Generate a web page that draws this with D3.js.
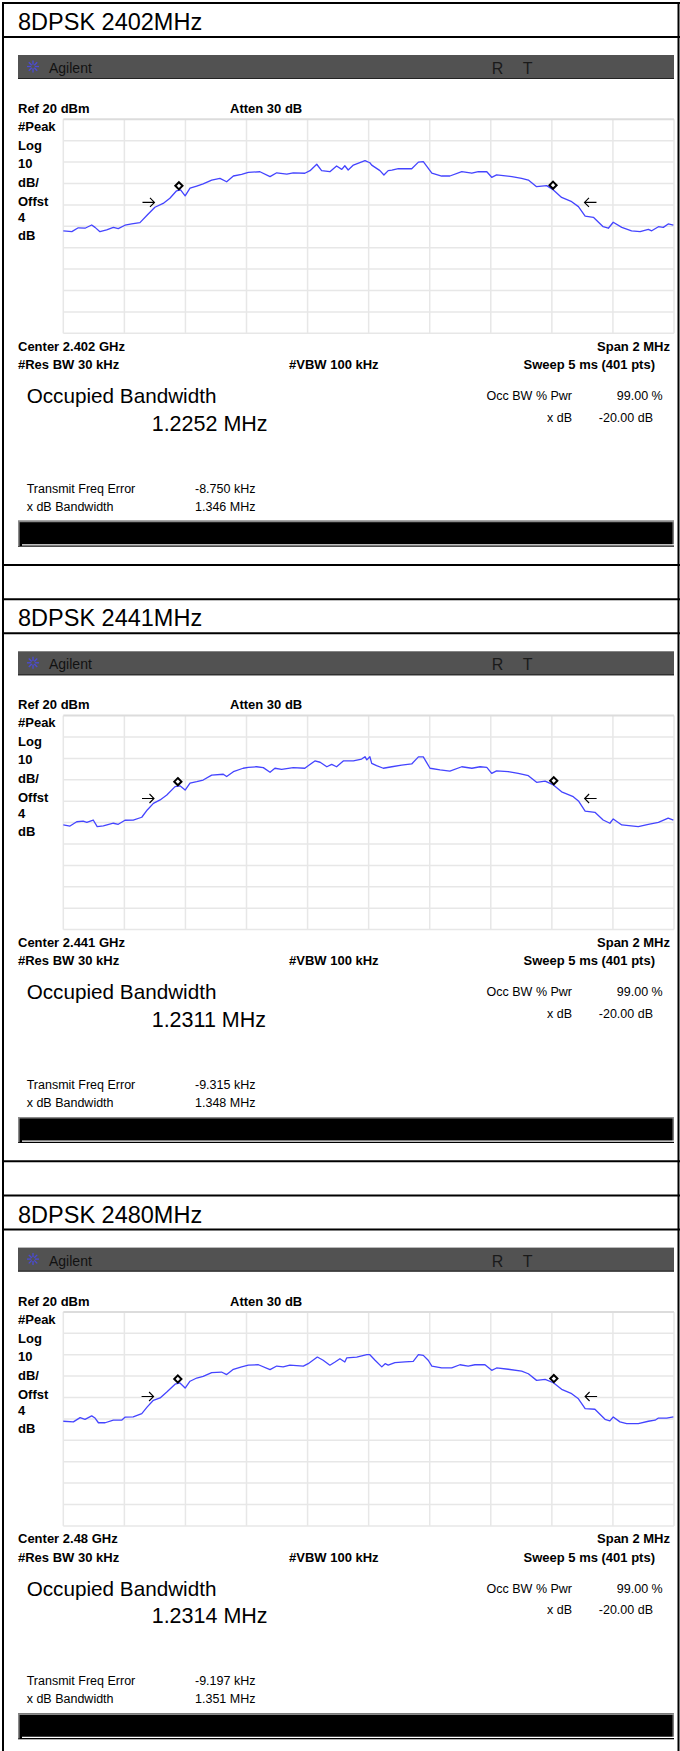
<!DOCTYPE html>
<html>
<head>
<meta charset="utf-8">
<script src="https://cdn.jsdelivr.net/npm/d3@7"></script>
<style>
  body { margin: 0; background: #fff; }
  svg { display: block; }
  text { font-family: "Liberation Sans", Arial, sans-serif; }
  .lbl { font-weight: bold; font-size: 13px; }
  .small { font-size: 12.5px; }
</style>
</head>
<body>
<div id="chart"></div>
<script>
// measurement results, one entry per channel
const titles = ['8DPSK 2402MHz', '8DPSK 2441MHz', '8DPSK 2480MHz'];
const centers = [2.402, 2.441, 2.48];        // GHz
const occBW = [1.2252, 1.2311, 1.2314];      // MHz
const freqError = [-8.750, -9.315, -9.197];  // kHz
const xdbBW = [1.346, 1.348, 1.351];         // MHz

// traces: offset from center (kHz) and level (dBm)
const freq2402 = [-1000, -972, -951, -929, -907, -896, -880, -858, -836, -820, -798, -776, -749, -725, -700, -673, -651, -629, -616, -601,
  -585, -563, -542, -514, -487, -465, -443, -416, -394, -356, -323, -301, -268, -247, -209, -192, -170, -154, -127, -105,
  -88, -78, -67, -50, -12, 4, 10, 37, 50, 64, 76, 97, 141, 163, 179, 207, 239, 266, 305, 338,
  359, 387, 403, 419, 469, 501, 523, 550, 583, 605, 632, 665, 687, 709, 736, 768, 785, 801, 829, 861,
  889, 916, 927, 949, 965, 981, 998];
const level2402 = [-32.1, -32.5, -30.7, -30.9, -29.4, -30.5, -32.5, -31.7, -30.5, -31.1, -29.5, -28.9, -28.3, -24.7, -21.1, -19.3, -16.9, -13.4, -13.0, -15.8,
  -12.2, -11.2, -10.2, -8.4, -7.6, -9.2, -6.5, -5.7, -4.8, -4.5, -6.8, -5.0, -5.6, -5.0, -5.2, -4.0, -1.0, -4.0, -4.5, -1.8,
  -3.4, -1.7, -3.7, -1.4, 0.7, -0.3, -1.4, -4.0, -6.0, -4.0, -3.7, -3.1, -3.1, 0.0, 0.2, -5.2, -6.5, -6.5, -4.5, -5.2,
  -4.5, -4.5, -7.1, -6.0, -6.8, -7.6, -8.4, -11.5, -11.0, -13.0, -16.5, -18.5, -20.8, -25.2, -25.8, -30.2, -30.9, -28.1, -30.5, -32.1,
  -32.5, -31.4, -32.1, -30.2, -30.5, -28.9, -29.4];

const freq2441 = [-1000, -978, -956, -935, -923, -902, -889, -869, -836, -820, -798, -771, -743, -725, -705, -683, -661, -634, -618, -601,
  -585, -563, -542, -514, -476, -465, -443, -411, -394, -367, -345, -323, -307, -285, -247, -209, -198, -176, -159, -137,
  -121, -105, -83, -50, -23, -12, -6, 4, 10, 26, 48, 76, 108, 141, 163, 179, 201, 234, 266, 305,
  338, 365, 387, 403, 419, 457, 490, 523, 550, 578, 605, 632, 670, 687, 709, 741, 768, 790, 801, 829,
  883, 916, 949, 981, 998];
const level2441 = [-31.1, -31.6, -29.6, -29.3, -29.9, -28.8, -31.9, -31.5, -30.3, -30.8, -28.9, -28.8, -27.5, -24.1, -21.0, -19.4, -17.1, -13.2, -12.8, -14.8,
  -11.6, -10.9, -10.1, -7.8, -7.4, -8.5, -6.2, -4.6, -4.2, -3.9, -4.3, -6.5, -4.6, -5.1, -4.3, -4.6, -3.4, -1.2, -1.8, -3.9,
  -2.8, -3.9, -1.2, -1.2, -0.3, 0.8, -0.7, 0.8, -2.3, -3.4, -4.6, -3.9, -3.1, -2.6, 0.7, 0.7, -4.6, -5.4, -5.9, -3.9,
  -4.6, -3.9, -4.2, -7.0, -5.8, -6.2, -7.0, -8.1, -11.2, -10.6, -12.4, -15.6, -17.9, -19.9, -24.6, -25.2, -28.8, -30.3, -28.3, -31.1,
  -31.9, -30.8, -29.9, -27.9, -28.8];

const freq2480 = [-1000, -967, -945, -929, -907, -896, -885, -863, -836, -809, -798, -771, -743, -725, -705, -683, -661, -634, -618, -601,
  -585, -563, -542, -514, -482, -465, -443, -416, -394, -361, -323, -301, -280, -258, -214, -198, -168, -149, -127, -110,
  -94, -78, -72, -39, -6, 4, 21, 43, 54, 64, 86, 119, 146, 163, 179, 195, 207, 239, 272, 299,
  326, 348, 381, 403, 419, 457, 501, 523, 550, 578, 605, 632, 665, 687, 709, 741, 774, 790, 801, 823,
  845, 883, 916, 938, 949, 976, 998];
const level2480 = [-31.1, -31.4, -29.4, -30.2, -28.6, -29.6, -31.8, -31.8, -30.6, -30.6, -29.2, -29.1, -27.5, -24.4, -21.3, -20.2, -17.4, -13.8, -13.2, -15.6,
  -12.4, -10.9, -10.1, -8.4, -8.1, -9.3, -6.8, -5.7, -4.9, -4.7, -7.0, -5.3, -5.7, -4.9, -5.3, -4.2, -1.1, -2.6, -4.9, -3.4,
  -1.9, -3.4, -1.5, -1.1, 0.0, 0.0, -2.6, -5.7, -4.2, -4.9, -3.7, -3.4, -3.1, 0.0, -0.3, -2.6, -5.3, -6.2, -6.2, -4.7,
  -5.3, -4.7, -4.7, -7.3, -6.2, -6.8, -7.7, -8.9, -12.0, -11.5, -13.1, -16.2, -18.2, -20.6, -25.2, -25.5, -30.2, -30.9, -29.1, -31.4,
  -32.2, -32.2, -31.1, -30.6, -29.6, -29.6, -29.1];

const leftLabels = ['#Peak', 'Log', '10', 'dB/', 'Offst', '4', 'dB'];

const traces = [[freq2402, level2402], [freq2441, level2441], [freq2480, level2480]]
  .map(([f, l]) => f.map((v, i) => ({f: v, l: l[i]})));

const W = 680, H = 1751, panelH = 596.3;

const x = d3.scaleLinear().domain([-1000, 1000]).range([63.3, 674]);
const y = d3.scaleLinear().domain([-80, 20]).range([333.3, 119.3]);

const svg = d3.select('#chart').append('svg')
  .attr('width', W).attr('height', H);

// plain hyphen for negatives, like the analyzer prints
const fmt3 = v => v.toFixed(3), fmt4 = v => v.toFixed(4);
const line = d3.line().x(d => x(d.f)).y(d => y(d.l));

// level of a trace at frequency f (linear between read points)
const levelAt = (tr, f) => {
  const i = d3.bisector(d => d.f).left(tr, f);
  if (i <= 0) return tr[0].l;
  if (i >= tr.length) return tr[tr.length - 1].l;
  const a = tr[i - 1], b = tr[i];
  return a.l + (b.l - a.l) * (f - a.f) / (b.f - a.f);
};

titles.forEach((title, p) => {
  const g = svg.append('g').attr('transform', 'translate(0,' + (p * panelH) + ')');
  const tr = traces[p];

  // frame
  [3, 37, 565].forEach(yy => g.append('line')
    .attr('x1', 2).attr('x2', 680).attr('y1', yy).attr('y2', yy)
    .attr('stroke', '#000').attr('stroke-width', 2));

  g.append('text').attr('x', 18).attr('y', 30)
    .attr('font-size', 23.5).attr('fill', '#000').text(title);

  // instrument header bar
  g.append('rect').attr('x', 18).attr('y', 55).attr('width', 656).attr('height', 24).attr('fill', '#525252');
  g.append('line').attr('x1', 18).attr('x2', 674).attr('y1', 78.5).attr('y2', 78.5)
    .attr('stroke', '#222').attr('stroke-width', 1);
  const logo = g.append('g').attr('transform', 'translate(33,66.5)');
  d3.range(8).forEach(k => {
    const a = k * Math.PI / 4;
    logo.append('line')
      .attr('x1', 1.8 * Math.cos(a)).attr('y1', 1.8 * Math.sin(a))
      .attr('x2', 6 * Math.cos(a)).attr('y2', 6 * Math.sin(a))
      .attr('stroke', '#4b4bd6').attr('stroke-width', 1.3);
  });
  g.append('text').attr('x', 49).attr('y', 73).attr('font-size', 14).attr('fill', '#111').text('Agilent');
  g.append('text').attr('x', 491.7).attr('y', 74).attr('font-size', 16).attr('fill', '#1a1a1a').text('R');
  g.append('text').attr('x', 522.7).attr('y', 74).attr('font-size', 16).attr('fill', '#1a1a1a').text('T');

  // settings
  g.append('text').attr('class', 'lbl').attr('x', 18).attr('y', 113).text('Ref 20 dBm');
  g.append('text').attr('class', 'lbl').attr('x', 230).attr('y', 113).text('Atten 30 dB');
  g.selectAll('.side').data(leftLabels).enter().append('text')
    .attr('class', 'lbl side').attr('x', 18)
    .attr('y', (d, i) => [131, 150, 168, 187, 206, 222, 240][i]).text(d => d);

  // grid
  const gx = d3.range(-1000, 1001, 200), gy = d3.range(-80, 21, 10);
  g.selectAll('.vg').data(gx).enter().append('line').attr('class', 'vg')
    .attr('x1', x).attr('x2', x).attr('y1', y(20)).attr('y2', y(-80))
    .attr('stroke', '#e7e7e7').attr('stroke-width', 1.5);
  g.selectAll('.hg').data(gy).enter().append('line').attr('class', 'hg')
    .attr('x1', x(-1000)).attr('x2', x(1000)).attr('y1', y).attr('y2', y)
    .attr('stroke', d => d === 20 ? '#dcdcdc' : '#e7e7e7').attr('stroke-width', d => d === 20 ? 2 : 1.5);

  // trace
  g.append('path').datum(tr).attr('d', line)
    .attr('fill', 'none').attr('stroke', '#4444ff').attr('stroke-width', 1.3)
    .attr('stroke-linejoin', 'round');

  // occupied bandwidth markers (diamond tip sits on the trace)
  const half = occBW[p] * 1000 / 2;
  [freqError[p] - half, freqError[p] + half].forEach(f => {
    const mx = x(f), my = y(levelAt(tr, f)) - 4.5;
    g.append('path')
      .attr('d', `M${mx},${my - 3.6}L${mx + 3.6},${my}L${mx},${my + 3.6}L${mx - 3.6},${my}Z`)
      .attr('fill', '#fff').attr('stroke', '#000').attr('stroke-width', 2);
  });

  // x dB bandwidth arrows
  const peak = d3.max(tr, d => d.l);
  const ay = y(peak - 20) - 1;
  const xh = xdbBW[p] * 1000 / 2;
  const lt = x(freqError[p] - xh) - 6, rt = x(freqError[p] + xh) + 13;
  g.append('path')
    .attr('d', `M${lt - 12},${ay}H${lt}M${lt - 4.5},${ay - 4.5}L${lt},${ay}L${lt - 4.5},${ay + 4.5}`)
    .attr('fill', 'none').attr('stroke', '#000').attr('stroke-width', 1.1);
  g.append('path')
    .attr('d', `M${rt + 12},${ay}H${rt}M${rt + 4.5},${ay - 4.5}L${rt},${ay}L${rt + 4.5},${ay + 4.5}`)
    .attr('fill', 'none').attr('stroke', '#000').attr('stroke-width', 1.1);

  // footer settings
  g.append('text').attr('class', 'lbl').attr('x', 18).attr('y', 350.7).text('Center ' + centers[p] + ' GHz');
  g.append('text').attr('class', 'lbl').attr('x', 18).attr('y', 369).text('#Res BW 30 kHz');
  g.append('text').attr('class', 'lbl').attr('x', 289).attr('y', 369).text('#VBW 100 kHz');
  g.append('text').attr('class', 'lbl').attr('x', 670).attr('y', 350.7).attr('text-anchor', 'end').text('Span 2 MHz');
  g.append('text').attr('class', 'lbl').attr('x', 655).attr('y', 369).attr('text-anchor', 'end').text('Sweep 5 ms (401 pts)');

  // results
  g.append('text').attr('x', 26.7).attr('y', 403).attr('font-size', 20.7).text('Occupied Bandwidth');
  g.append('text').attr('x', 151.7).attr('y', 430.7).attr('font-size', 21.5).text(fmt4(occBW[p]) + ' MHz');
  g.append('text').attr('class', 'small').attr('x', 572).attr('y', 400).attr('text-anchor', 'end').text('Occ BW % Pwr');
  g.append('text').attr('class', 'small').attr('x', 662.7).attr('y', 400).attr('text-anchor', 'end').text('99.00 %');
  g.append('text').attr('class', 'small').attr('x', 572).attr('y', 421.7).attr('text-anchor', 'end').text('x dB');
  g.append('text').attr('class', 'small').attr('x', 653).attr('y', 421.7).attr('text-anchor', 'end').text('-20.00 dB');
  g.append('text').attr('class', 'small').attr('x', 26.7).attr('y', 492.7).text('Transmit Freq Error');
  g.append('text').attr('class', 'small').attr('x', 195).attr('y', 492.7).text(fmt3(freqError[p]) + ' kHz');
  g.append('text').attr('class', 'small').attr('x', 26.7).attr('y', 510.7).text('x dB Bandwidth');
  g.append('text').attr('class', 'small').attr('x', 195).attr('y', 510.7).text(fmt3(xdbBW[p]) + ' MHz');

  // status bar
  g.append('rect').attr('x', 18).attr('y', 520.7).attr('width', 656).attr('height', 26).attr('fill', '#000');
  g.append('line').attr('x1', 18).attr('x2', 674).attr('y1', 521.5).attr('y2', 521.5).attr('stroke', '#8a8a8a').attr('stroke-width', 1.6);
  g.append('line').attr('x1', 18.8).attr('x2', 18.8).attr('y1', 521).attr('y2', 546).attr('stroke', '#8a8a8a').attr('stroke-width', 1.6);
  g.append('line').attr('x1', 673.2).attr('x2', 673.2).attr('y1', 521).attr('y2', 545).attr('stroke', '#9a9a9a').attr('stroke-width', 1.2);
  g.append('line').attr('x1', 22).attr('x2', 674).attr('y1', 544.8).attr('y2', 544.8).attr('stroke', '#fff').attr('stroke-width', 1.2);
});

// outer vertical borders
[3, 678.5].forEach(xx => svg.append('line')
  .attr('x1', xx).attr('x2', xx).attr('y1', 2).attr('y2', H)
  .attr('stroke', '#000').attr('stroke-width', 2));
</script>
</body>
</html>
